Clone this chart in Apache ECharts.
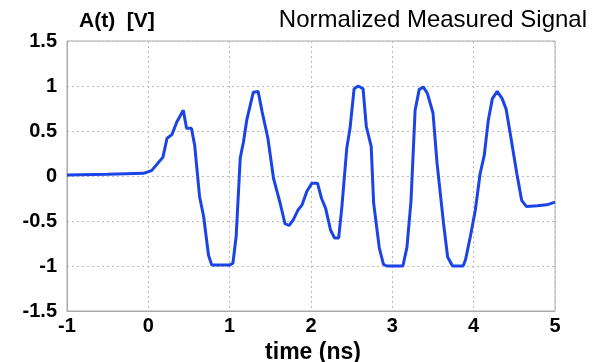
<!DOCTYPE html>
<html><head><meta charset="utf-8">
<script src="https://cdn.jsdelivr.net/npm/echarts@6/dist/echarts.min.js"></script>
<style>html,body{margin:0;padding:0;background:#fff}#c{width:595px;height:362px}</style>
</head><body><div id="c"></div>
<script>
const time = [-1, -0.5, -0.06, 0.04, 0.18, 0.23, 0.29, 0.35, 0.43, 0.47, 0.53, 0.57, 0.63, 0.68, 0.74, 0.78, 1.0, 1.04, 1.08, 1.13, 1.17, 1.21, 1.29, 1.35, 1.40, 1.47, 1.54, 1.62, 1.68, 1.73, 1.78, 1.84, 1.89, 1.95, 2.01, 2.08, 2.13, 2.18, 2.24, 2.29, 2.34, 2.38, 2.44, 2.48, 2.53, 2.58, 2.64, 2.68, 2.74, 2.77, 2.84, 2.89, 2.93, 3.13, 3.18, 3.23, 3.28, 3.33, 3.38, 3.43, 3.50, 3.55, 3.63, 3.68, 3.74, 3.87, 3.90, 3.96, 4.02, 4.08, 4.13, 4.18, 4.23, 4.29, 4.35, 4.40, 4.45, 4.53, 4.59, 4.65, 4.78, 4.90, 5.0];
const amp = [0.01, 0.02, 0.03, 0.06, 0.21, 0.42, 0.46, 0.60, 0.73, 0.53, 0.53, 0.34, -0.23, -0.45, -0.88, -0.99, -0.99, -0.97, -0.67, 0.20, 0.38, 0.62, 0.93, 0.94, 0.71, 0.42, -0.03, -0.30, -0.53, -0.55, -0.49, -0.38, -0.32, -0.17, -0.08, -0.08, -0.25, -0.36, -0.60, -0.69, -0.69, -0.34, 0.31, 0.53, 0.97, 1.0, 0.97, 0.55, 0.33, -0.30, -0.80, -0.98, -1.0, -1.0, -0.79, -0.27, 0.73, 0.96, 0.99, 0.92, 0.70, 0.14, -0.53, -0.90, -1.0, -1.0, -0.93, -0.67, -0.38, 0.03, 0.23, 0.62, 0.86, 0.94, 0.86, 0.74, 0.47, 0.03, -0.27, -0.34, -0.33, -0.32, -0.29];
const yLabel = 'A(t)  [V]';
const xLabel = 'time (ns)';
const title = 'Normalized Measured Signal';

const chart = echarts.init(document.getElementById('c'), null, {renderer: 'canvas'});
const ff = 'Liberation Sans, Arial, sans-serif';
const lbl = {fontFamily: ff, fontWeight: 'bold', fontSize: 20, color: '#000'};
chart.setOption({
  animation: false,
  backgroundColor: '#fff',
  grid: {left: 67, right: 40, top: 41, bottom: 51, show: true, borderColor: '#aaa', borderWidth: 1},
  title: [
    {text: yLabel, left: 74, top: 6, textStyle: {fontFamily: ff, fontWeight: 'bold', fontSize: 21, color: '#000'}},
    {text: title, right: 3, top: 3, textStyle: {fontFamily: ff, fontWeight: 'normal', fontSize: 24, color: '#000'}},
    {text: xLabel, left: 308, textAlign: 'center', top: 336, textStyle: {fontFamily: ff, fontWeight: 'bold', fontSize: 23, color: '#000'}}
  ],
  xAxis: {
    type: 'value', min: -1, max: 5, interval: 1,
    axisLine: {show: true, onZero: false, lineStyle: {color: '#aaa'}},
    axisTick: {show: false},
    axisLabel: Object.assign({margin: 5}, lbl),
    splitLine: {show: true, lineStyle: {color: '#bbb', type: [2, 3], width: 1}}
  },
  yAxis: {
    type: 'value', min: -1.5, max: 1.5, interval: 0.5,
    axisLine: {show: true, onZero: false, lineStyle: {color: '#aaa'}},
    axisTick: {show: false},
    axisLabel: Object.assign({margin: 10}, lbl),
    splitLine: {show: true, lineStyle: {color: '#bbb', type: [2, 3], width: 1}}
  },
  series: [{
    type: 'line',
    data: time.map((t, i) => [t, amp[i]]),
    showSymbol: false,
    lineStyle: {color: '#1a44e6', width: 3},
    itemStyle: {color: '#1a44e6'}
  }]
});
</script></body></html>
